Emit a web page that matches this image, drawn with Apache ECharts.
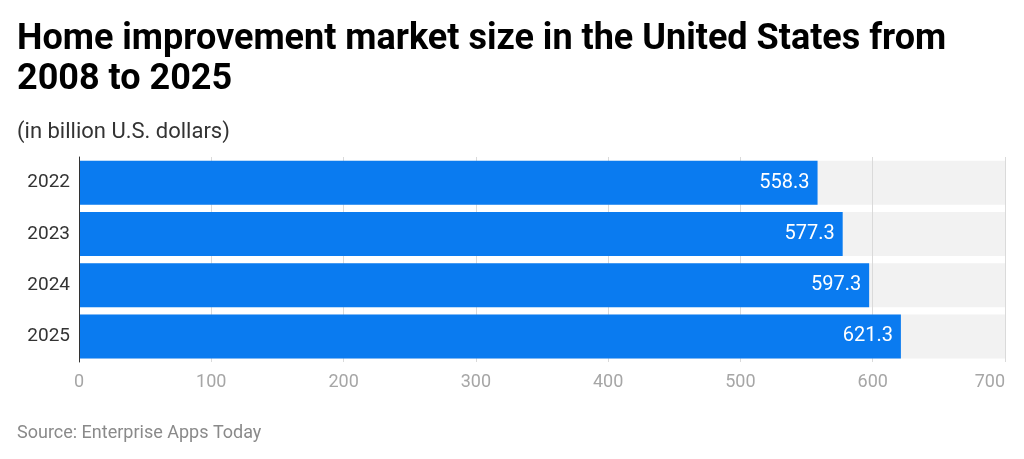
<!DOCTYPE html>
<html>
<head>
<meta charset="utf-8">
<script src="https://cdn.jsdelivr.net/npm/echarts@6/dist/echarts.min.js"></script>
<style>html,body{margin:0;padding:0;background:#fff}#c{width:1024px;height:459px}</style>
</head>
<body>
<div id="c"></div>
<script>
const categories = ['2022', '2023', '2024', '2025'];
const values = [558.3, 577.3, 597.3, 621.3];
const axisMin = 0;
const axisMax = 700;
const axisInterval = 100;

const chart = echarts.init(document.getElementById('c'), null, {renderer: 'canvas'});
const font = 'Roboto, "Noto Sans", sans-serif';
chart.setOption({
  animation: false,
  backgroundColor: '#fff',
  textStyle: {fontFamily: font},
  title: [
    {text: 'Home improvement market size in the United States from\n2008 to 2025', left: 12, top: 15,
     textStyle: {fontSize: 36, fontWeight: 'bold', color: '#000', lineHeight: 40, fontFamily: font}},
    {text: '(in billion U.S. dollars)', left: 12, top: 114,
     textStyle: {fontSize: 22, fontWeight: 'normal', color: '#333', lineHeight: 26, fontFamily: font}},
    {text: 'Source: Enterprise Apps Today', left: 12, top: 417,
     textStyle: {fontSize: 18, fontWeight: 'normal', color: '#8a8a8a', lineHeight: 22, fontFamily: font}}
  ],
  grid: {left: 79, right: 19, top: 157, height: 205, containLabel: false},
  xAxis: {
    type: 'value', min: axisMin, max: axisMax, interval: axisInterval, z: 2,
    axisLine: {show: false}, axisTick: {show: false},
    axisLabel: {fontSize: 18, color: '#a6a6a6', margin: 11, fontFamily: font, alignMaxLabel: 'right'},
    splitLine: {show: true, lineStyle: {color: '#dadada', width: 1}}
  },
  yAxis: {
    type: 'category', data: categories, inverse: true, z: 4,
    axisLine: {show: true, lineStyle: {color: '#333', width: 1}},
    axisTick: {show: false},
    axisLabel: {fontSize: 19, color: '#333', margin: 9, fontFamily: font}
  },
  series: [
    {
      type: 'bar', data: categories.map(() => axisMax), barWidth: 44, z: 1,
      itemStyle: {color: '#f2f2f2'}, silent: true
    },
    {
      type: 'bar', data: values, barWidth: 44, barGap: '-100%', z: 3,
      itemStyle: {color: '#0a7bf0'},
      label: {show: true, position: 'insideRight', distance: 8, color: '#fff', fontSize: 20, fontFamily: font,
        formatter: p => p.value.toFixed(1)}
    }
  ]
});
</script>
</body>
</html>
